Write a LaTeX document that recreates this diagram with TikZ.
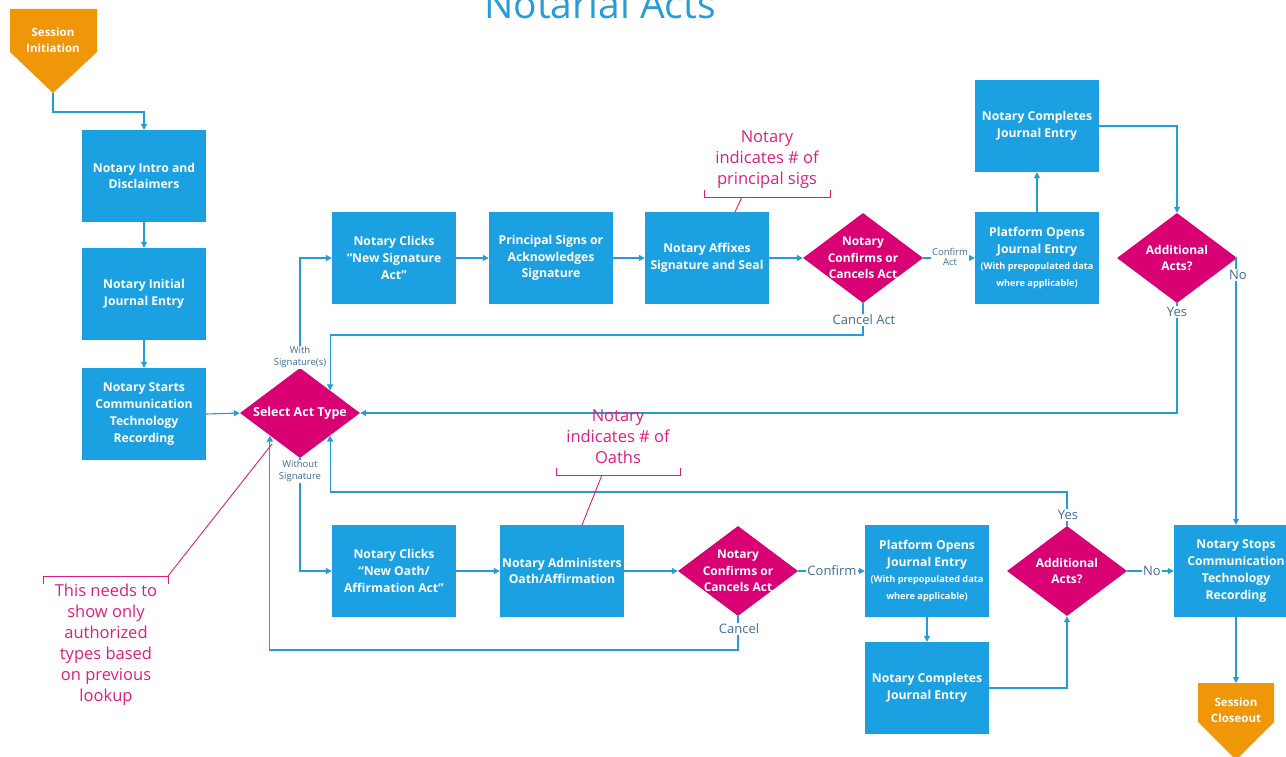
\documentclass[tikz,border=0pt]{standalone}
\usepackage{fontspec}
\setmainfont{Open Sans}
\usetikzlibrary{shapes.geometric,arrows.meta}
\definecolor{nblue}{RGB}{27,161,226}
\definecolor{lblue}{RGB}{36,156,214}
\definecolor{nmag}{RGB}{216,0,115}
\definecolor{amag}{RGB}{222,30,125}
\definecolor{norange}{RGB}{240,150,9}
\definecolor{lbl}{RGB}{66,108,150}
\definecolor{ttl}{RGB}{40,155,216}
\newcommand{\subfnt}{\fontsize{9.2}{15.5}\selectfont}
\tikzset{
  procbox/.style={rectangle, fill=nblue, minimum width=124pt, minimum height=92pt,
    inner sep=0pt, text=white, align=center,
    font=\bfseries\fontsize{12.2}{16.7}\selectfont},
  decision/.style={diamond, fill=nmag, minimum width=120pt, minimum height=90pt,
    inner sep=0pt},
  dtext/.style={text=white, align=center, font=\bfseries\fontsize{12}{16.5}\selectfont},
  conn/.style={draw=lblue, line width=1.1pt, -{Triangle[length=6pt,width=6pt]}},
  edgelbl/.style={fill=white, text=lbl, inner sep=1pt, align=center,
    font=\fontsize{13}{14}\selectfont},
  smalllbl/.style={fill=white, text=lbl, inner sep=1pt, align=center,
    font=\fontsize{9.5}{11.5}\selectfont},
  note/.style={text=amag, align=center, font=\fontsize{16.5}{21}\selectfont},
  notebar/.style={draw=amag, line width=0.9pt},
  terminal/.style={fill=norange},
  termtext/.style={text=white, align=center, font=\bfseries\fontsize{11.5}{16.5}\selectfont}
}
\begin{document}
\begin{tikzpicture}[x=1pt,y=-1pt]
\useasboundingbox (0,0) rectangle (1286,757);

% title
\node[anchor=base, text=ttl, font=\fontsize{39}{42}\selectfont] (title) at (600,19) {Notarial Acts};

% session start terminal
\fill[terminal] (10,9) -- (97,9) -- (97,52) -- (53,93) -- (10,52) -- cycle;
\coordinate (sitip) at (53,93);
\node[termtext] (sitext) at (53,40) {Session\\Initiation};

% left column
\node[procbox] (intro) at (144,176) {Notary Intro and\\Disclaimers};
\node[procbox] (initial) at (144,294) {Notary Initial\\Journal Entry};
\node[procbox] (startrec) at (144,414) {Notary Starts\\Communication\\Technology\\Recording};

% act type choice
\node[decision] (sel) at (300,413) {};
\node[dtext, font=\bfseries\fontsize{12.5}{15}\selectfont] (seltext) at (sel) {Select Act Type};

% signature branch
\node[procbox] (sig1) at (394,258) {Notary Clicks\\“New Signature\\Act”};
\node[procbox] (sig2) at (551,258) {Principal Signs or\\Acknowledges\\Signature};
\node[procbox] (sig3) at (707,258) {Notary Affixes\\Signature and Seal};
\node[decision] (sigdec) at (863,258) {};
\node[dtext] (sigdectext) at (sigdec) {Notary\\Confirms or\\Cancels Act};
\node[procbox] (sigjopen) at (1037,258) {Platform Opens\\Journal Entry\\\subfnt (With prepopulated data\\\subfnt where applicable)};
\node[procbox] (sigjdone) at (1037,126) {Notary Completes\\Journal Entry};
\node[decision] (sigmore) at (1177,258) {};
\node[dtext] (sigmoretext) at (sigmore) {Additional\\Acts?};

% oath branch
\node[procbox] (oath1) at (394,571) {Notary Clicks\\“New Oath/\\Affirmation Act”};
\node[procbox] (oath2) at (562,571) {Notary Administers\\Oath/Affirmation};
\node[decision] (oathdec) at (738,571) {};
\node[dtext] (oathdectext) at (oathdec) {Notary\\Confirms or\\Cancels Act};
\node[procbox] (oathjopen) at (927,571) {Platform Opens\\Journal Entry\\\subfnt (With prepopulated data\\\subfnt where applicable)};
\node[procbox] (oathjdone) at (927,688) {Notary Completes\\Journal Entry};
\node[decision] (oathmore) at (1067,571) {};
\node[dtext] (oathmoretext) at (oathmore) {Additional\\Acts?};

% end of session
\node[procbox] (stoprec) at (1236,571) {Notary Stops\\Communication\\Technology\\Recording};
\fill[terminal] (1198,683) -- (1274,683) -- (1274,722) -- (1236,760) -- (1198,722) -- cycle;
\coordinate (sctop) at (1236,683);
\node[termtext] (sctext) at (1236,710) {Session\\Closeout};

% connectors: left column
\draw[conn] (sitip) -- (53,112) -| (intro.north);
\draw[conn] (intro) -- (initial);
\draw[conn] (initial) -- (startrec);
\draw[conn] (startrec.east) -- (sel.west);

% connectors: signature branch
\draw[conn] (sel.north) |- (sig1.west);
\node[smalllbl] (withsig) at (300,357) {With\\Signature(s)};
\draw[conn] (sig1) -- (sig2);
\draw[conn] (sig2) -- (sig3);
\draw[conn] (sig3) -- (sigdec);
\draw[conn] (sigdec) -- (sigjopen);
\node[smalllbl, font=\fontsize{9.5}{10.5}\selectfont] (confirmact) at (950,257) {Confirm\\Act};
\draw[conn] (sigjopen) -- (sigjdone);
\draw[conn] (sigjdone.east) -| (sigmore.north);
\draw[conn] (sigdec.south) -- (863,335) -| (sel.north east);
\node[edgelbl] (cancelact) at (864,320) {Cancel Act};
\draw[conn] (sigmore.south) |- (sel.east);
\node[edgelbl] (yestop) at (1177,312) {Yes};
\draw[conn] (sigmore.east) -| (stoprec.north);
\node[edgelbl] (notop) at (1238,275) {No};

% connectors: oath branch
\draw[conn] (sel.south) |- (oath1.west);
\node[smalllbl] (withoutsig) at (300,471) {Without\\Signature};
\draw[conn] (oath1) -- (oath2);
\draw[conn] (oath2) -- (oathdec);
\draw[conn] (oathdec) -- (oathjopen);
\node[edgelbl] (confirm) at (832,571) {Confirm};
\draw[conn] (oathjopen) -- (oathjdone);
\draw[conn] (oathjdone.east) -| (oathmore.south);
\draw[conn] (oathdec.south) -- (738,650) -| (sel.south west);
\node[edgelbl] (cancel) at (739,629) {Cancel};
\draw[conn] (oathmore.north) -- (1067,492) -| (sel.south east);
\node[edgelbl] (yesbot) at (1068,515) {Yes};
\draw[conn] (oathmore) -- (stoprec);
\node[edgelbl] (nobot) at (1152,571) {No};
\draw[conn] (stoprec.south) -- (sctop);

% annotations
\node[note] (sigsnote) at (767,160) {Notary\\indicates \# of\\principal sigs};
\draw[notebar] (704,190) -- (704,197) -- (830,197) -- (830,190);
\coordinate (sigsbar) at (742,197);
\coordinate (sigsend) at (735,212);
\draw[notebar] (sigsbar) -- (sigsend);

\node[note] (oathsnote) at (618,437) {Notary\\indicates \# of\\Oaths};
\draw[notebar] (556,468) -- (556,475) -- (680,475) -- (680,468);
\coordinate (oathsbar) at (602,475);
\coordinate (oathsend) at (582,525);
\draw[notebar] (oathsbar) -- (oathsend);

\node[note] (lookupnote) at (106,645) {This needs to\\show only\\authorized\\types based\\on previous\\lookup};
\draw[notebar] (43,584) -- (43,576) -- (168,576) -- (168,584);
\coordinate (lookupbar) at (168,576);
\coordinate (lookupend) at (272,444);
\draw[notebar] (lookupbar) -- (lookupend);
\end{tikzpicture}
\end{document}
